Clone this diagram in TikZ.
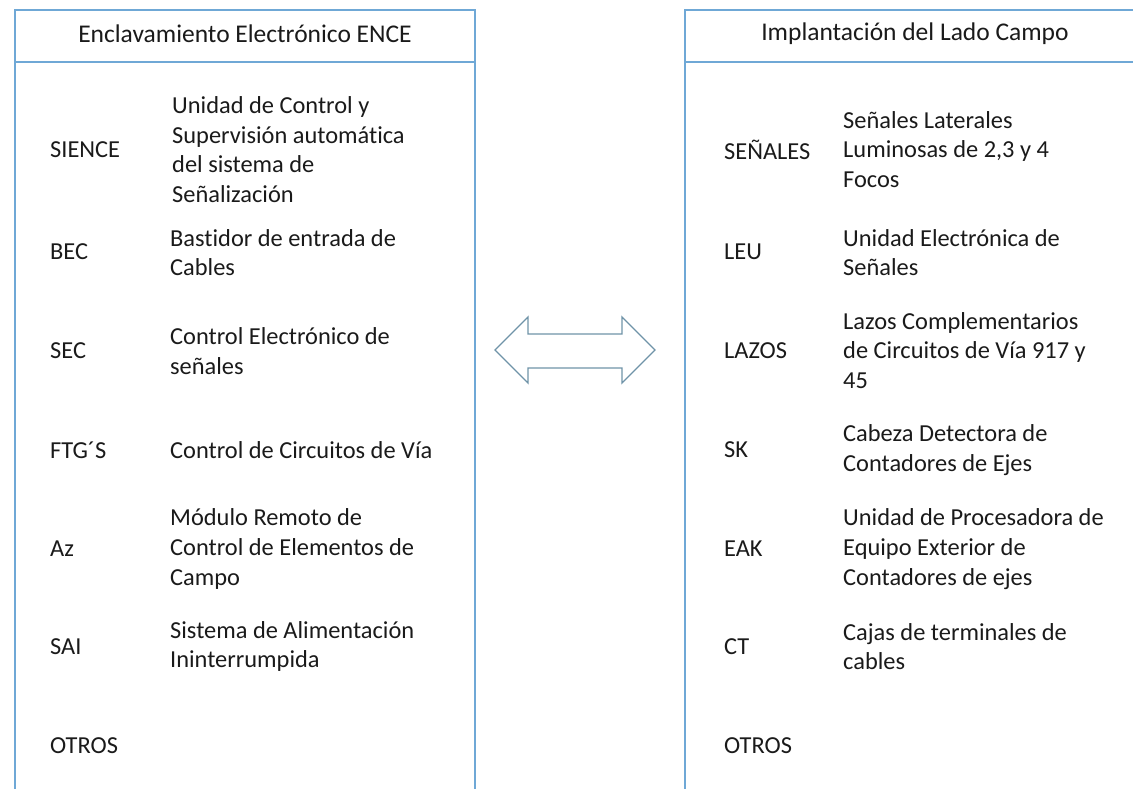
\documentclass[tikz,border=0pt]{standalone}
\usepackage{fontspec}
\setmainfont[Ligatures=NoCommon]{Carlito}
\definecolor{boxblue}{HTML}{6FA8D6}
\definecolor{txt}{HTML}{1A1A1A}
\definecolor{arrowc}{HTML}{6F93A8}
\begin{document}
\begin{tikzpicture}[x=1pt,y=-1pt,
  every node/.style={inner sep=0pt,text=txt,font=\fontsize{24.4}{29.7}\selectfont},
  lbl/.style={anchor=west},
  desc/.style={anchor=west,align=left},
  head/.style={anchor=center,font=\fontsize{25.5}{30}\selectfont},
  frame/.style={draw=boxblue,line width=1.2pt},
  hline/.style={draw=boxblue,line width=2.4pt}]
\path[use as bounding box] (0,0) rectangle (1133,789);
% left box
\draw[frame] (15,789) -- (15,10) -- (475,10) -- (475,789);
\draw[hline] (15,62) -- (475,62);
\node[head] (lh) at (245,34) {Enclavamiento Electrónico ENCE};
% right box
\draw[frame] (685,789) -- (685,10) -- (1140,10);
\draw[hline] (685,62) -- (1140,62);
\node[head] (rh) at (915,34) {Implantación del Lado Campo};
% left items
\node[lbl] (l1) at (50,150) {SIENCE};
\node[desc] (d1) at (172,149.5) {Unidad de Control y\\Supervisión automática\\del sistema de\\Señalización};
\node[lbl] (l2) at (50,252) {BEC};
\node[desc] (d2) at (170,252.5) {Bastidor de entrada de\\Cables};
\node[lbl] (l3) at (50,351) {SEC};
\node[desc] (d3) at (170,351) {Control Electrónico de\\señales};
\node[lbl] (l4) at (50,450) {FTG´S};
\node[desc] (d4) at (170,450) {Control de Circuitos de Vía};
\node[lbl] (l5) at (50,549) {Az};
\node[desc] (d5) at (170,549) {Módulo Remoto de\\Control de Elementos de\\Campo};
\node[lbl] (l6) at (50,647) {SAI};
\node[desc] (d6) at (170,646.5) {Sistema de Alimentación\\Ininterrumpida};
\node[lbl] (l7) at (50,746) {OTROS};
% right items
\node[lbl] (r1) at (724,150) {SEÑALES};
\node[desc] (e1) at (843,149.5) {Señales Laterales\\Luminosas de 2,3 y 4\\Focos};
\node[lbl] (r2) at (724,252) {LEU};
\node[desc] (e2) at (843,252.5) {Unidad Electrónica de\\Señales};
\node[lbl] (r3) at (724,351) {LAZOS};
\node[desc] (e3) at (843,350.5) {Lazos Complementarios\\de Circuitos de Vía 917 y\\45};
\node[lbl] (r4) at (724,450) {SK};
\node[desc] (e4) at (843,450) {Cabeza Detectora de\\Contadores de Ejes};
\node[lbl] (r5) at (724,549) {EAK};
\node[desc] (e5) at (843,549) {Unidad de Procesadora de\\Equipo Exterior de\\Contadores de ejes};
\node[lbl] (r6) at (724,647) {CT};
\node[desc] (e6) at (843,646.5) {Cajas de terminales de\\cables};
\node[lbl] (r7) at (724,746) {OTROS};
% double arrow
\draw[draw=arrowc,line width=1.3pt,line join=miter]
  (495,350) -- (528,317) -- (528,334) -- (622,334) -- (622,317) -- (655,350)
  -- (622,383) -- (622,368) -- (528,368) -- (528,383) -- cycle;
\end{tikzpicture}
\end{document}
